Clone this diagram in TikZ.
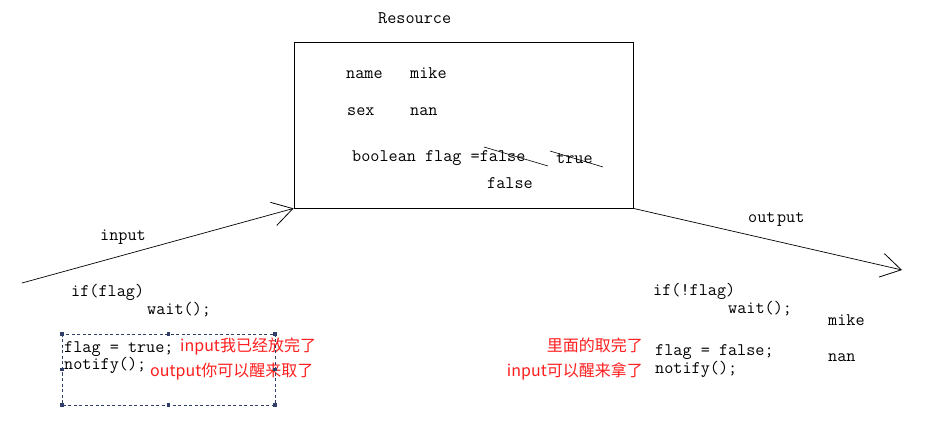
\documentclass[tikz,border=0pt]{standalone}
\usepackage{fontspec}
\newfontfamily\cjk{Noto Sans CJK SC}
\usetikzlibrary{arrows.meta}
\definecolor{redtxt}{HTML}{FF1E1E}
\definecolor{navy}{HTML}{2F3F6A}
\begin{document}
\begin{tikzpicture}[x=1pt,y=-1pt,
  code/.style={anchor=mid west,inner sep=0pt,yshift=-3pt,font=\ttfamily\fontsize{17.7}{19}\selectfont},
  note/.style={inner sep=0pt,text=redtxt,font=\cjk\fontsize{16}{18}\selectfont},
  barb/.style={-{Straight Barb[length=20pt,width=24pt,line width=0.8pt]},line width=0.7pt},
  handle/.style={fill=navy,inner sep=0pt,minimum size=3.2pt}]
\useasboundingbox (0,0) rectangle (932,430);
\fill[white] (0,0) rectangle (932,430);
% Resource box
\node[draw,line width=0.8pt,minimum width=339pt,minimum height=166pt,inner sep=0pt] (res) at (463.5,125) {};
\node[code] (title) at (378,18) {Resource};
\node[code] (nm) at (346,73) {name};
\node[code] (nmv) at (410,73) {mike};
\node[code] (sx) at (347,110) {sex};
\node[code] (sxv) at (410,110) {nan};
\node[code] (bf) at (352,156) {boolean flag =false};
\node[code] (tr) at (556,158) {true};
\node[code] (fl) at (487,183) {false};
\draw[line width=0.6pt] (484,147) -- (548,166);
\draw[line width=0.6pt] (550,151) -- (603,167);
% arrows
\coordinate (inS) at (22,283);
\coordinate (outE) at (902,270);
\draw[barb] (inS) -- (res.south west);
\draw[barb] (res.south east) -- (outE);
\node[code] (inl) at (100,235) {input};
\node[code] (outl) at (748,217) {out\hspace{1.5pt}put};
% left code
\node[code] (lif) at (71,291) {if(flag)};
\node[code] (lw) at (147,309) {wait();};
\node[code] (lf) at (64,347) {flag = true;};
\node[code] (ln) at (64,364) {notify();};
\node[note,anchor=west] (n1) at (180,347) {input我已经放完了};
\node[note,anchor=west] (n2) at (150,372) {output你可以醒来取了};
% dashed selection box
\draw[navy,dashed,line width=0.6pt,dash pattern=on 3pt off 2.5pt] (62,334) rectangle (275,405);
\foreach \p in {(62,334),(168.5,334),(275,334),(62,369.5),(275,369.5),(62,405),(168.5,405),(275,405)}
  \node[handle] at \p {};
% right code
\node[code] (rif) at (653,290) {if(!flag)};
\node[code] (rw) at (728,308) {wait();};
\node[code] (rm) at (828,320) {mike};
\node[code] (rf) at (655,350) {flag = false;};
\node[code] (rn) at (828,356) {nan};
\node[code] (rno) at (655,368) {notify();};
\node[note,anchor=east] (n3) at (643,345) {里面的取完了};
\node[note,anchor=east] (n4) at (643,371) {input可以醒来拿了};
\end{tikzpicture}
\end{document}
